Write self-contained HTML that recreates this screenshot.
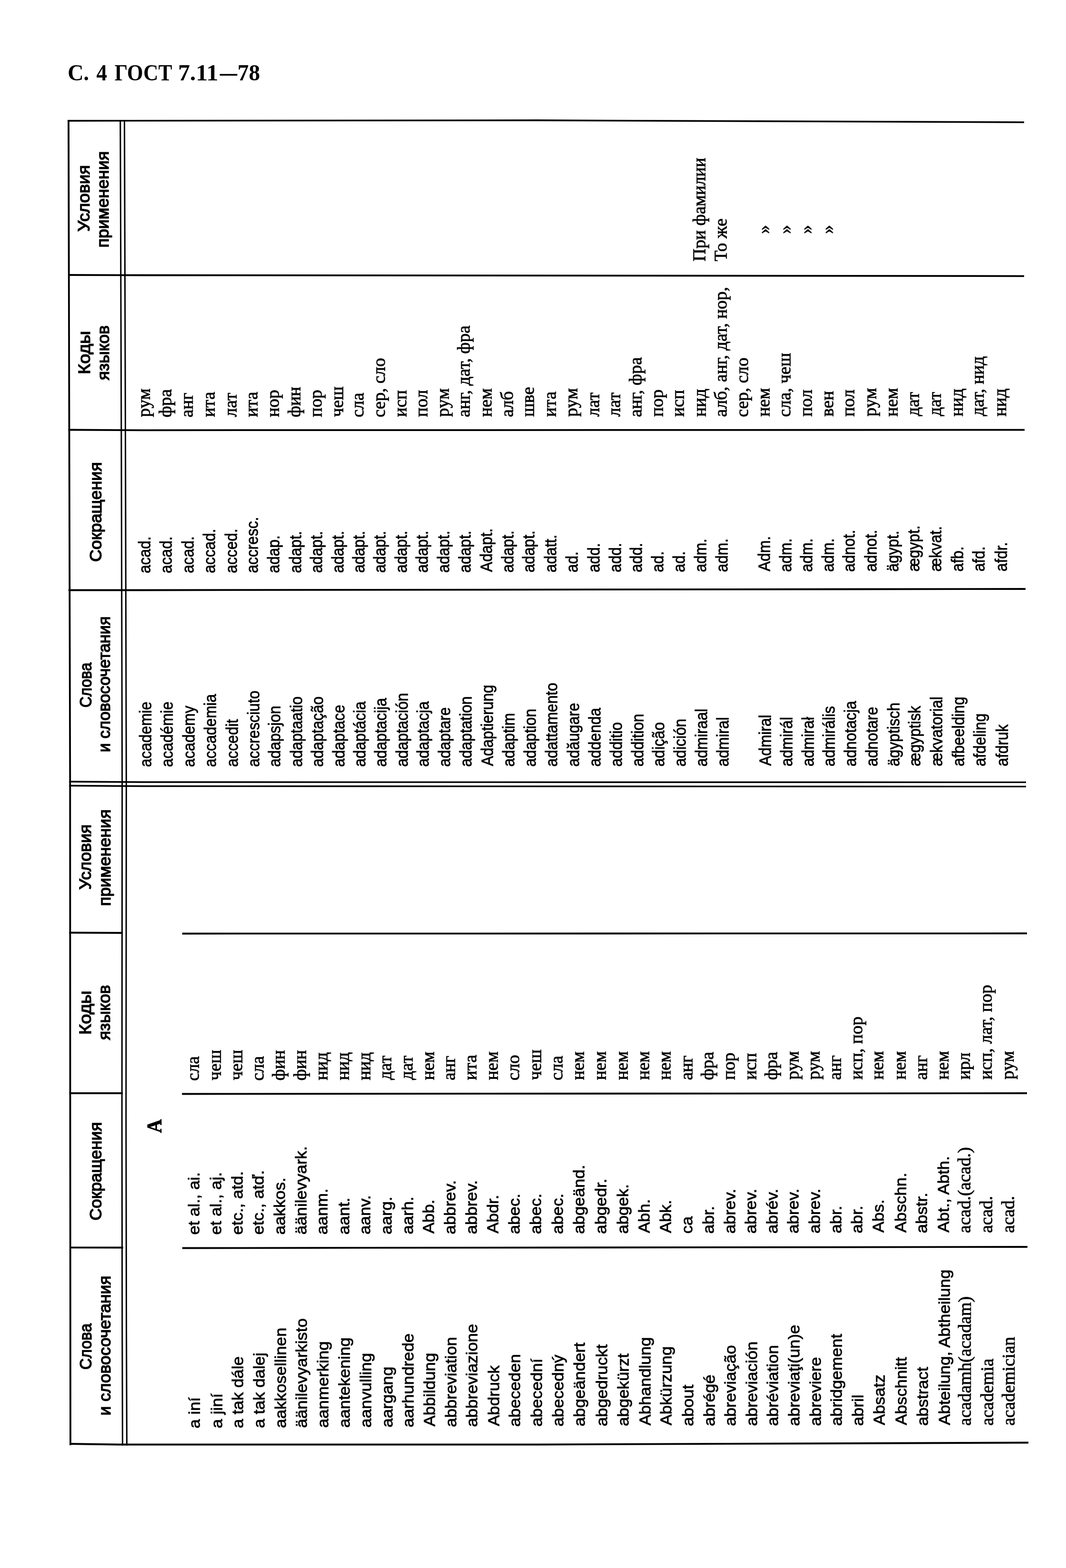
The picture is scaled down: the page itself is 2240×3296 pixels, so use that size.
<!DOCTYPE html>
<html lang="ru"><head><meta charset="utf-8"><title>ГОСТ 7.11—78, с. 4</title>
<style>
html,body{margin:0;padding:0;background:#fff;}
body{width:2240px;height:3296px;overflow:hidden;position:relative;}
svg{position:absolute;left:0;top:0;}
.o1{font-family:"Liberation Sans",sans-serif;font-size:33px;}
.o2{font-family:"Liberation Sans",sans-serif;font-size:34.5px;}
.t{font-family:"Liberation Serif",serif;font-size:37.4px;}
.h{font-family:"Liberation Sans",sans-serif;font-size:35px;}
.A{font-family:"Liberation Serif",serif;font-weight:bold;font-size:44px;}
.title{font-family:"Liberation Serif",serif;font-weight:bold;font-size:49px;stroke-width:0.0px;}
.h{stroke-width:1.5px;}
.A{stroke-width:1.0px;}
text{fill:#000;stroke:#000;stroke-width:0.8px;}
polyline{fill:none;stroke:#000;stroke-width:3.8px;stroke-linecap:butt;stroke-linejoin:round;}
</style></head>
<body>
<svg width="2240" height="3296" viewBox="0 0 2240 3296" xmlns="http://www.w3.org/2000/svg">
<text class="title" x="142.29" y="168.90" textLength="44.89" lengthAdjust="spacingAndGlyphs">С.</text>
<text class="title" x="202.43" y="168.90" textLength="22.47" lengthAdjust="spacingAndGlyphs">4</text>
<text class="title" x="240.63" y="168.90" textLength="120.94" lengthAdjust="spacingAndGlyphs">ГОСТ</text>
<text class="title" x="374.15" y="168.90" textLength="84.64" lengthAdjust="spacingAndGlyphs">7.11</text>
<text class="title" x="462.08" y="168.90" textLength="36.53" lengthAdjust="spacingAndGlyphs">—</text>
<text class="title" x="498.99" y="168.90" textLength="47.47" lengthAdjust="spacingAndGlyphs">78</text>
<polyline points="144.00,252.00 145.50,905.00 147.30,1650.00 147.50,2300.00 148.00,3038.00" style="stroke-width:3.80px"/>
<polyline points="252.80,252.00 254.90,905.00 256.70,1650.00 256.20,2350.00 256.80,2800.00 257.50,3038.50" style="stroke-width:3.00px"/>
<polyline points="261.50,252.00 263.50,905.00 265.40,1650.00 264.80,2350.00 265.60,2800.00 266.50,3038.50" style="stroke-width:3.00px"/>
<polyline points="142.10,253.90 1130.00,252.90 2152.00,257.00" style="stroke-width:3.60px"/>
<polyline points="143.60,578.00 300.00,578.50 2152.00,580.30" style="stroke-width:3.80px"/>
<polyline points="143.60,903.50 300.00,904.30 2153.00,903.60" style="stroke-width:3.80px"/>
<polyline points="143.80,1240.50 300.00,1240.50 2155.00,1238.00" style="stroke-width:3.80px"/>
<polyline points="145.40,1643.00 300.00,1644.00 2156.00,1644.40" style="stroke-width:3.40px"/>
<polyline points="145.40,1651.50 300.00,1652.50 2156.00,1653.40" style="stroke-width:3.40px"/>
<polyline points="145.40,1960.50 258.20,1961.00" style="stroke-width:3.80px"/>
<polyline points="383.00,1962.50 2158.00,1962.00" style="stroke-width:3.80px"/>
<polyline points="145.60,2298.00 258.20,2298.00" style="stroke-width:3.80px"/>
<polyline points="382.40,2299.50 2158.00,2298.00" style="stroke-width:3.80px"/>
<polyline points="146.00,2622.30 258.80,2622.50" style="stroke-width:3.80px"/>
<polyline points="383.00,2623.50 2159.00,2621.00" style="stroke-width:3.80px"/>
<polyline points="146.10,3035.00 250.00,3036.50 1130.00,3036.50 2161.00,3032.50" style="stroke-width:3.80px"/>
<text class="o2" transform="translate(318.10 1612.27) rotate(-90) scale(0.9200 1)">academie</text>
<text class="o2" transform="translate(315.90 1205.07) rotate(-90) scale(0.9200 1)">acad.</text>
<text class="t" transform="translate(314.60 876.75) rotate(-90)">рум</text>
<text class="o2" transform="translate(363.20 1612.23) rotate(-90) scale(0.9200 1)">académie</text>
<text class="o2" transform="translate(361.00 1204.97) rotate(-90) scale(0.9200 1)">acad.</text>
<text class="t" transform="translate(359.70 877.46) rotate(-90)">фра</text>
<text class="o2" transform="translate(408.80 1612.19) rotate(-90) scale(0.9200 1)">academy</text>
<text class="o2" transform="translate(406.60 1204.87) rotate(-90) scale(0.9200 1)">acad.</text>
<text class="t" transform="translate(405.30 877.42) rotate(-90)">анг</text>
<text class="o2" transform="translate(454.40 1612.15) rotate(-90) scale(0.9200 1)">accademia</text>
<text class="o2" transform="translate(452.20 1204.78) rotate(-90) scale(0.9200 1)">accad.</text>
<text class="t" transform="translate(450.90 876.82) rotate(-90)">ита</text>
<text class="o2" transform="translate(500.00 1612.11) rotate(-90) scale(0.9200 1)">accedit</text>
<text class="o2" transform="translate(497.80 1204.68) rotate(-90) scale(0.9200 1)">acced.</text>
<text class="t" transform="translate(496.50 876.41) rotate(-90)">лат</text>
<text class="o2" transform="translate(544.60 1612.07) rotate(-90) scale(0.9200 1)">accresciuto</text>
<text class="o2" transform="translate(542.40 1204.59) rotate(-90) scale(0.9200 1)">accresc.</text>
<text class="t" transform="translate(541.10 876.75) rotate(-90)">ита</text>
<text class="o2" transform="translate(589.30 1612.03) rotate(-90) scale(0.9200 1)">adapsjon</text>
<text class="o2" transform="translate(587.10 1204.49) rotate(-90) scale(0.9200 1)">adap.</text>
<text class="t" transform="translate(585.80 876.71) rotate(-90)">нор</text>
<text class="o2" transform="translate(634.70 1611.99) rotate(-90) scale(0.9200 1)">adaptaatio</text>
<text class="o2" transform="translate(632.50 1204.40) rotate(-90) scale(0.9200 1)">adapt.</text>
<text class="t" transform="translate(631.20 877.23) rotate(-90)">фин</text>
<text class="o2" transform="translate(679.30 1611.95) rotate(-90) scale(0.9200 1)">adaptação</text>
<text class="o2" transform="translate(677.10 1204.30) rotate(-90) scale(0.9200 1)">adapt.</text>
<text class="t" transform="translate(675.80 876.63) rotate(-90)">пор</text>
<text class="o2" transform="translate(724.00 1611.91) rotate(-90) scale(0.9200 1)">adaptace</text>
<text class="o2" transform="translate(721.80 1204.21) rotate(-90) scale(0.9200 1)">adapt.</text>
<text class="t" transform="translate(720.50 876.41) rotate(-90)">чеш</text>
<text class="o2" transform="translate(767.70 1611.87) rotate(-90) scale(0.9200 1)">adaptácia</text>
<text class="o2" transform="translate(765.50 1204.12) rotate(-90) scale(0.9200 1)">adapt.</text>
<text class="t" transform="translate(764.20 877.31) rotate(-90)">сла</text>
<text class="o2" transform="translate(812.30 1611.83) rotate(-90) scale(0.9200 1)">adaptacija</text>
<text class="o2" transform="translate(810.10 1204.02) rotate(-90) scale(0.9200 1)">adapt.</text>
<text class="t" transform="translate(808.80 877.27) rotate(-90)">сер, сло</text>
<text class="o2" transform="translate(857.00 1611.79) rotate(-90) scale(0.9200 1)">adaptación</text>
<text class="o2" transform="translate(854.80 1203.93) rotate(-90) scale(0.9200 1)">adapt.</text>
<text class="t" transform="translate(853.50 876.49) rotate(-90)">исп</text>
<text class="o2" transform="translate(901.00 1611.75) rotate(-90) scale(0.9200 1)">adaptacja</text>
<text class="o2" transform="translate(898.80 1203.83) rotate(-90) scale(0.9200 1)">adapt.</text>
<text class="t" transform="translate(897.50 876.45) rotate(-90)">пол</text>
<text class="o2" transform="translate(946.00 1611.71) rotate(-90) scale(0.9200 1)">adaptare</text>
<text class="o2" transform="translate(943.80 1203.74) rotate(-90) scale(0.9200 1)">adapt.</text>
<text class="t" transform="translate(942.50 876.23) rotate(-90)">рум</text>
<text class="o2" transform="translate(990.70 1611.67) rotate(-90) scale(0.9200 1)">adaptation</text>
<text class="o2" transform="translate(988.50 1203.64) rotate(-90) scale(0.9200 1)">adapt.</text>
<text class="t" transform="translate(987.20 876.94) rotate(-90)">анг, дат, фра</text>
<text class="o2" transform="translate(1036.30 1610.36) rotate(-90) scale(0.9200 1)">Adaptierung</text>
<text class="o2" transform="translate(1034.10 1202.28) rotate(-90) scale(0.9200 1)">Adapt.</text>
<text class="t" transform="translate(1032.80 876.34) rotate(-90)">нем</text>
<text class="o2" transform="translate(1081.00 1611.59) rotate(-90) scale(0.9200 1)">adaptim</text>
<text class="o2" transform="translate(1078.80 1203.45) rotate(-90) scale(0.9200 1)">adapt.</text>
<text class="t" transform="translate(1077.50 876.86) rotate(-90)">алб</text>
<text class="o2" transform="translate(1125.60 1611.55) rotate(-90) scale(0.9200 1)">adaption</text>
<text class="o2" transform="translate(1123.40 1203.36) rotate(-90) scale(0.9200 1)">adapt.</text>
<text class="t" transform="translate(1122.10 876.08) rotate(-90)">шве</text>
<text class="o2" transform="translate(1171.20 1611.51) rotate(-90) scale(0.9200 1)">adattamento</text>
<text class="o2" transform="translate(1169.00 1203.26) rotate(-90) scale(0.9200 1)">adatt.</text>
<text class="t" transform="translate(1167.70 876.23) rotate(-90)">ита</text>
<text class="o2" transform="translate(1216.60 1611.47) rotate(-90) scale(0.9200 1)">adăugare</text>
<text class="o2" transform="translate(1214.40 1203.17) rotate(-90) scale(0.9200 1)">ad.</text>
<text class="t" transform="translate(1213.10 876.00) rotate(-90)">рум</text>
<text class="o2" transform="translate(1262.20 1611.43) rotate(-90) scale(0.9200 1)">addenda</text>
<text class="o2" transform="translate(1260.00 1203.07) rotate(-90) scale(0.9200 1)">add.</text>
<text class="t" transform="translate(1258.70 875.78) rotate(-90)">лат</text>
<text class="o2" transform="translate(1306.90 1611.39) rotate(-90) scale(0.9200 1)">additio</text>
<text class="o2" transform="translate(1304.70 1202.98) rotate(-90) scale(0.9200 1)">add.</text>
<text class="t" transform="translate(1303.40 875.74) rotate(-90)">лат</text>
<text class="o2" transform="translate(1351.50 1611.35) rotate(-90) scale(0.9200 1)">addition</text>
<text class="o2" transform="translate(1349.30 1202.88) rotate(-90) scale(0.9200 1)">add.</text>
<text class="t" transform="translate(1348.00 876.64) rotate(-90)">анг, фра</text>
<text class="o2" transform="translate(1396.20 1611.31) rotate(-90) scale(0.9200 1)">adição</text>
<text class="o2" transform="translate(1394.00 1202.79) rotate(-90) scale(0.9200 1)">ad.</text>
<text class="t" transform="translate(1392.70 876.04) rotate(-90)">пор</text>
<text class="o2" transform="translate(1440.80 1611.27) rotate(-90) scale(0.9200 1)">adición</text>
<text class="o2" transform="translate(1438.60 1202.69) rotate(-90) scale(0.9200 1)">ad.</text>
<text class="t" transform="translate(1437.30 876.00) rotate(-90)">исп</text>
<text class="o2" transform="translate(1486.40 1611.23) rotate(-90) scale(0.9200 1)">admiraal</text>
<text class="o2" transform="translate(1484.20 1202.60) rotate(-90) scale(0.9200 1)">adm.</text>
<text class="t" transform="translate(1482.90 875.97) rotate(-90)">нид</text>
<text class="t" transform="translate(1482.20 549.62) rotate(-90)">При фамилии</text>
<text class="o2" transform="translate(1530.90 1611.19) rotate(-90) scale(0.9200 1)">admiral</text>
<text class="o2" transform="translate(1528.70 1202.50) rotate(-90) scale(0.9200 1)">adm.</text>
<text class="t" transform="translate(1527.40 876.49) rotate(-90)">алб, анг, дат, нор,</text>
<text class="t" transform="translate(1526.70 549.25) rotate(-90)">То же</text>
<text class="t" transform="translate(1572.00 876.64) rotate(-90)">сер, сло</text>
<text class="o2" transform="translate(1620.20 1609.84) rotate(-90) scale(0.9200 1)">Admiral</text>
<text class="o2" transform="translate(1618.00 1201.05) rotate(-90) scale(0.9200 1)">Adm.</text>
<text class="t" transform="translate(1616.70 875.86) rotate(-90)">нем</text>
<text class="t" transform="translate(1617.00 491.50) rotate(-90)">»</text>
<text class="o2" transform="translate(1664.80 1611.07) rotate(-90) scale(0.9200 1)">admirál</text>
<text class="o2" transform="translate(1662.60 1202.22) rotate(-90) scale(0.9200 1)">adm.</text>
<text class="t" transform="translate(1661.30 876.57) rotate(-90)">сла, чеш</text>
<text class="t" transform="translate(1661.60 491.50) rotate(-90)">»</text>
<text class="o2" transform="translate(1709.50 1611.03) rotate(-90) scale(0.9200 1)">admirał</text>
<text class="o2" transform="translate(1707.30 1202.13) rotate(-90) scale(0.9200 1)">adm.</text>
<text class="t" transform="translate(1706.00 875.78) rotate(-90)">пол</text>
<text class="t" transform="translate(1706.30 491.50) rotate(-90)">»</text>
<text class="o2" transform="translate(1754.10 1610.99) rotate(-90) scale(0.9200 1)">admirális</text>
<text class="o2" transform="translate(1751.90 1202.03) rotate(-90) scale(0.9200 1)">adm.</text>
<text class="t" transform="translate(1750.60 875.75) rotate(-90)">вен</text>
<text class="t" transform="translate(1750.90 491.50) rotate(-90)">»</text>
<text class="o2" transform="translate(1798.60 1610.95) rotate(-90) scale(0.9200 1)">adnotacja</text>
<text class="o2" transform="translate(1796.40 1201.94) rotate(-90) scale(0.9200 1)">adnot.</text>
<text class="t" transform="translate(1795.10 875.71) rotate(-90)">пол</text>
<text class="o2" transform="translate(1844.20 1610.91) rotate(-90) scale(0.9200 1)">adnotare</text>
<text class="o2" transform="translate(1842.00 1201.84) rotate(-90) scale(0.9200 1)">adnot.</text>
<text class="t" transform="translate(1840.70 875.48) rotate(-90)">рум</text>
<text class="o2" transform="translate(1889.80 1610.87) rotate(-90) scale(0.9200 1)">ägyptisch</text>
<text class="o2" transform="translate(1887.60 1201.75) rotate(-90) scale(0.9200 1)">ägypt.</text>
<text class="t" transform="translate(1886.30 875.63) rotate(-90)">нем</text>
<text class="o2" transform="translate(1934.40 1610.51) rotate(-90) scale(0.9200 1)">ægyptisk</text>
<text class="o2" transform="translate(1932.20 1201.33) rotate(-90) scale(0.9200 1)">ægypt.</text>
<text class="t" transform="translate(1930.90 874.85) rotate(-90)">дат</text>
<text class="o2" transform="translate(1980.10 1610.47) rotate(-90) scale(0.9200 1)">ækvatorial</text>
<text class="o2" transform="translate(1977.90 1201.24) rotate(-90) scale(0.9200 1)">ækvat.</text>
<text class="t" transform="translate(1976.60 874.81) rotate(-90)">дат</text>
<text class="o2" transform="translate(2026.00 1610.75) rotate(-90) scale(0.9200 1)">afbeelding</text>
<text class="o2" transform="translate(2023.80 1201.46) rotate(-90) scale(0.9200 1)">afb.</text>
<text class="t" transform="translate(2022.50 875.52) rotate(-90)">нид</text>
<text class="o2" transform="translate(2070.90 1610.71) rotate(-90) scale(0.9200 1)">afdeling</text>
<text class="o2" transform="translate(2068.70 1201.36) rotate(-90) scale(0.9200 1)">afd.</text>
<text class="t" transform="translate(2067.40 874.74) rotate(-90)">дат, нид</text>
<text class="o2" transform="translate(2117.70 1610.67) rotate(-90) scale(0.9200 1)">afdruk</text>
<text class="o2" transform="translate(2115.50 1201.26) rotate(-90) scale(0.9200 1)">afdr.</text>
<text class="t" transform="translate(2114.20 875.44) rotate(-90)">нид</text>
<text class="o1" transform="translate(420.10 3002.60) rotate(-90) scale(1.0550 1)">a iní</text>
<text class="o1" transform="translate(418.60 2595.59) rotate(-90) scale(1.0550 1)">et al., ai.</text>
<text class="t" transform="translate(417.80 2271.89) rotate(-90)">сла</text>
<text class="o1" transform="translate(466.60 3002.35) rotate(-90) scale(1.0550 1)">a jiní</text>
<text class="o1" transform="translate(465.10 2595.49) rotate(-90) scale(1.0550 1)">et al., aj.</text>
<text class="t" transform="translate(464.30 2270.91) rotate(-90)">чеш</text>
<text class="o1" transform="translate(511.30 3002.11) rotate(-90) scale(1.0550 1)">a tak dále</text>
<text class="o1" transform="translate(509.80 2595.39) rotate(-90) scale(1.0550 1)">etc., atd.</text>
<text class="t" transform="translate(509.00 2270.86) rotate(-90)">чеш</text>
<text class="o1" transform="translate(555.90 3001.87) rotate(-90) scale(1.0550 1)">a tak dalej</text>
<text class="o1" transform="translate(554.40 2595.29) rotate(-90) scale(1.0550 1)">etc., atď.</text>
<text class="t" transform="translate(553.60 2271.74) rotate(-90)">сла</text>
<text class="o1" transform="translate(600.60 3001.63) rotate(-90) scale(1.0550 1)">aakkosellinen</text>
<text class="o1" transform="translate(599.10 2595.19) rotate(-90) scale(1.0550 1)">aakkos.</text>
<text class="t" transform="translate(598.30 2271.51) rotate(-90)">фин</text>
<text class="o1" transform="translate(645.20 3001.39) rotate(-90) scale(1.0550 1)">äänilevyarkisto</text>
<text class="o1" transform="translate(643.70 2595.09) rotate(-90) scale(1.0550 1)">äänilevyark.</text>
<text class="t" transform="translate(642.90 2271.46) rotate(-90)">фин</text>
<text class="o1" transform="translate(689.90 3001.15) rotate(-90) scale(1.0550 1)">aanmerking</text>
<text class="o1" transform="translate(688.40 2594.99) rotate(-90) scale(1.0550 1)">aanm.</text>
<text class="t" transform="translate(687.60 2270.85) rotate(-90)">нид</text>
<text class="o1" transform="translate(735.30 3000.91) rotate(-90) scale(1.0550 1)">aantekening</text>
<text class="o1" transform="translate(733.80 2594.89) rotate(-90) scale(1.0550 1)">aant.</text>
<text class="t" transform="translate(733.00 2270.80) rotate(-90)">нид</text>
<text class="o1" transform="translate(779.90 3000.67) rotate(-90) scale(1.0550 1)">aanvulling</text>
<text class="o1" transform="translate(778.40 2594.79) rotate(-90) scale(1.0550 1)">aanv.</text>
<text class="t" transform="translate(777.60 2270.75) rotate(-90)">нид</text>
<text class="o1" transform="translate(824.60 3000.43) rotate(-90) scale(1.0550 1)">aargang</text>
<text class="o1" transform="translate(823.10 2594.69) rotate(-90) scale(1.0550 1)">aarg.</text>
<text class="t" transform="translate(822.30 2269.95) rotate(-90)">дат</text>
<text class="o1" transform="translate(869.20 3000.20) rotate(-90) scale(1.0550 1)">aarhundrede</text>
<text class="o1" transform="translate(867.70 2594.59) rotate(-90) scale(1.0550 1)">aarh.</text>
<text class="t" transform="translate(866.90 2269.90) rotate(-90)">дат</text>
<text class="o1" transform="translate(913.90 2998.57) rotate(-90) scale(1.0550 1)">Abbildung</text>
<text class="o1" transform="translate(912.40 2593.10) rotate(-90) scale(1.0550 1)">Abb.</text>
<text class="t" transform="translate(911.60 2270.60) rotate(-90)">нем</text>
<text class="o1" transform="translate(958.50 2999.72) rotate(-90) scale(1.0550 1)">abbreviation</text>
<text class="o1" transform="translate(957.00 2594.39) rotate(-90) scale(1.0550 1)">abbrev.</text>
<text class="t" transform="translate(956.20 2271.11) rotate(-90)">анг</text>
<text class="o1" transform="translate(1003.00 2999.48) rotate(-90) scale(1.0550 1)">abbreviazione</text>
<text class="o1" transform="translate(1001.50 2594.30) rotate(-90) scale(1.0550 1)">abbrev.</text>
<text class="t" transform="translate(1000.70 2270.50) rotate(-90)">ита</text>
<text class="o1" transform="translate(1048.60 2997.85) rotate(-90) scale(1.0550 1)">Abdruck</text>
<text class="o1" transform="translate(1047.10 2592.80) rotate(-90) scale(1.0550 1)">Abdr.</text>
<text class="t" transform="translate(1046.30 2270.45) rotate(-90)">нем</text>
<text class="o1" transform="translate(1093.20 2999.00) rotate(-90) scale(1.0550 1)">abeceden</text>
<text class="o1" transform="translate(1091.70 2594.10) rotate(-90) scale(1.0550 1)">abec.</text>
<text class="t" transform="translate(1090.90 2271.15) rotate(-90)">сло</text>
<text class="o1" transform="translate(1138.80 2998.76) rotate(-90) scale(1.0550 1)">abecední</text>
<text class="o1" transform="translate(1137.30 2593.99) rotate(-90) scale(1.0550 1)">abec.</text>
<text class="t" transform="translate(1136.50 2270.16) rotate(-90)">чеш</text>
<text class="o1" transform="translate(1184.40 2998.51) rotate(-90) scale(1.0550 1)">abecedný</text>
<text class="o1" transform="translate(1182.90 2593.89) rotate(-90) scale(1.0550 1)">abec.</text>
<text class="t" transform="translate(1182.10 2271.05) rotate(-90)">сла</text>
<text class="o1" transform="translate(1229.10 2998.27) rotate(-90) scale(1.0550 1)">abgeändert</text>
<text class="o1" transform="translate(1227.60 2593.79) rotate(-90) scale(1.0550 1)">abgeänd.</text>
<text class="t" transform="translate(1226.80 2270.25) rotate(-90)">нем</text>
<text class="o1" transform="translate(1275.60 2998.03) rotate(-90) scale(1.0550 1)">abgedruckt</text>
<text class="o1" transform="translate(1274.10 2593.69) rotate(-90) scale(1.0550 1)">abgedr.</text>
<text class="t" transform="translate(1273.30 2270.20) rotate(-90)">нем</text>
<text class="o1" transform="translate(1321.00 2997.87) rotate(-90) scale(1.0550 1)">abgekürzt</text>
<text class="o1" transform="translate(1319.50 2593.59) rotate(-90) scale(1.0550 1)">abgek.</text>
<text class="t" transform="translate(1318.70 2270.15) rotate(-90)">нем</text>
<text class="o1" transform="translate(1366.60 2996.42) rotate(-90) scale(1.0550 1)">Abhandlung</text>
<text class="o1" transform="translate(1365.10 2592.10) rotate(-90) scale(1.0550 1)">Abh.</text>
<text class="t" transform="translate(1364.30 2270.10) rotate(-90)">нем</text>
<text class="o1" transform="translate(1411.30 2996.37) rotate(-90) scale(1.0550 1)">Abkürzung</text>
<text class="o1" transform="translate(1409.80 2592.00) rotate(-90) scale(1.0550 1)">Abk.</text>
<text class="t" transform="translate(1409.00 2270.05) rotate(-90)">нем</text>
<text class="o1" transform="translate(1456.90 2997.70) rotate(-90) scale(1.0550 1)">about</text>
<text class="o1" transform="translate(1455.40 2593.29) rotate(-90) scale(1.0550 1)">ca</text>
<text class="t" transform="translate(1454.60 2270.56) rotate(-90)">анг</text>
<text class="o1" transform="translate(1501.50 2997.65) rotate(-90) scale(1.0550 1)">abrégé</text>
<text class="o1" transform="translate(1500.00 2593.19) rotate(-90) scale(1.0550 1)">abr.</text>
<text class="t" transform="translate(1499.20 2270.51) rotate(-90)">фра</text>
<text class="o1" transform="translate(1546.20 2997.60) rotate(-90) scale(1.0550 1)">abreviação</text>
<text class="o1" transform="translate(1544.70 2593.09) rotate(-90) scale(1.0550 1)">abrev.</text>
<text class="t" transform="translate(1543.90 2269.90) rotate(-90)">пор</text>
<text class="o1" transform="translate(1590.80 2997.54) rotate(-90) scale(1.0550 1)">abreviación</text>
<text class="o1" transform="translate(1589.30 2592.99) rotate(-90) scale(1.0550 1)">abrev.</text>
<text class="t" transform="translate(1588.50 2269.85) rotate(-90)">исп</text>
<text class="o1" transform="translate(1635.30 2997.49) rotate(-90) scale(1.0550 1)">abréviation</text>
<text class="o1" transform="translate(1633.80 2592.89) rotate(-90) scale(1.0550 1)">abrév.</text>
<text class="t" transform="translate(1633.00 2270.36) rotate(-90)">фра</text>
<text class="o1" transform="translate(1679.90 2997.44) rotate(-90) scale(1.0550 1)">abreviaţi(un)e</text>
<text class="o1" transform="translate(1678.40 2592.79) rotate(-90) scale(1.0550 1)">abrev.</text>
<text class="t" transform="translate(1677.60 2269.56) rotate(-90)">рум</text>
<text class="o1" transform="translate(1724.60 2997.38) rotate(-90) scale(1.0550 1)">abreviere</text>
<text class="o1" transform="translate(1723.10 2592.69) rotate(-90) scale(1.0550 1)">abrev.</text>
<text class="t" transform="translate(1722.30 2269.51) rotate(-90)">рум</text>
<text class="o1" transform="translate(1769.20 2997.33) rotate(-90) scale(1.0550 1)">abridgement</text>
<text class="o1" transform="translate(1767.70 2592.59) rotate(-90) scale(1.0550 1)">abr.</text>
<text class="t" transform="translate(1766.90 2270.21) rotate(-90)">анг</text>
<text class="o1" transform="translate(1813.90 2997.27) rotate(-90) scale(1.0550 1)">abril</text>
<text class="o1" transform="translate(1812.40 2592.50) rotate(-90) scale(1.0550 1)">abr.</text>
<text class="t" transform="translate(1811.60 2269.60) rotate(-90)">исп, пор</text>
<text class="o1" transform="translate(1858.50 2995.83) rotate(-90) scale(1.0550 1)">Absatz</text>
<text class="o1" transform="translate(1857.00 2591.00) rotate(-90) scale(1.0550 1)">Abs.</text>
<text class="t" transform="translate(1856.20 2269.55) rotate(-90)">нем</text>
<text class="o1" transform="translate(1905.30 2995.77) rotate(-90) scale(1.0550 1)">Abschnitt</text>
<text class="o1" transform="translate(1903.80 2590.90) rotate(-90) scale(1.0550 1)">Abschn.</text>
<text class="t" transform="translate(1903.00 2269.50) rotate(-90)">нем</text>
<text class="o1" transform="translate(1949.90 2997.11) rotate(-90) scale(1.0550 1)">abstract</text>
<text class="o1" transform="translate(1948.40 2592.19) rotate(-90) scale(1.0550 1)">abstr.</text>
<text class="t" transform="translate(1947.60 2270.01) rotate(-90)">анг</text>
<text class="o1" transform="translate(1995.50 2995.66) rotate(-90) scale(1.0550 1)">Abteilung, Abtheilung</text>
<text class="o1" transform="translate(1994.00 2590.70) rotate(-90) scale(1.0550 1)">Abt., Abth.</text>
<text class="t" transform="translate(1993.20 2269.40) rotate(-90)">нем</text>
<text class="t" transform="translate(2040.20 2996.92) rotate(-90)">acadamh(acadam)</text>
<text class="t" transform="translate(2038.70 2591.91) rotate(-90)">acad.(acad.)</text>
<text class="t" transform="translate(2037.90 2269.35) rotate(-90)">ирл</text>
<text class="t" transform="translate(2086.70 2996.86) rotate(-90)">academia</text>
<text class="t" transform="translate(2085.20 2591.81) rotate(-90)">acad.</text>
<text class="t" transform="translate(2084.40 2269.30) rotate(-90)">исп, лат, пор</text>
<text class="t" transform="translate(2132.30 2996.81) rotate(-90)">academician</text>
<text class="t" transform="translate(2130.80 2591.71) rotate(-90)">acad.</text>
<text class="t" transform="translate(2130.00 2269.06) rotate(-90)">рум</text>
<text class="h" transform="translate(187.90 486.69) rotate(-90)" textLength="139.46" lengthAdjust="spacingAndGlyphs">Условия</text>
<text class="h" transform="translate(228.20 520.40) rotate(-90)" textLength="202.45" lengthAdjust="spacingAndGlyphs">применения</text>
<text class="h" transform="translate(189.00 786.71) rotate(-90)" textLength="91.00" lengthAdjust="spacingAndGlyphs">Коды</text>
<text class="h" transform="translate(228.90 799.15) rotate(-90)" textLength="115.27" lengthAdjust="spacingAndGlyphs">языков</text>
<text class="h" transform="translate(213.30 1181.09) rotate(-90)" textLength="209.74" lengthAdjust="spacingAndGlyphs">Сокращения</text>
<text class="h" transform="translate(191.60 1487.30) rotate(-90)" textLength="94.58" lengthAdjust="spacingAndGlyphs">Слова</text>
<text class="h" transform="translate(231.40 1581.21) rotate(-90)" textLength="285.65" lengthAdjust="spacingAndGlyphs">и словосочетания</text>
<text class="h" transform="translate(191.30 1869.97) rotate(-90)" textLength="137.10" lengthAdjust="spacingAndGlyphs">Условия</text>
<text class="h" transform="translate(231.70 1904.51) rotate(-90)" textLength="203.07" lengthAdjust="spacingAndGlyphs">применения</text>
<text class="h" transform="translate(191.30 2174.96) rotate(-90)" textLength="92.50" lengthAdjust="spacingAndGlyphs">Коды</text>
<text class="h" transform="translate(230.70 2186.16) rotate(-90)" textLength="115.78" lengthAdjust="spacingAndGlyphs">языков</text>
<text class="h" transform="translate(213.20 2565.47) rotate(-90)" textLength="206.78" lengthAdjust="spacingAndGlyphs">Сокращения</text>
<text class="h" transform="translate(191.60 2879.04) rotate(-90)" textLength="97.02" lengthAdjust="spacingAndGlyphs">Слова</text>
<text class="h" transform="translate(231.50 2975.58) rotate(-90)" textLength="294.09" lengthAdjust="spacingAndGlyphs">и словосочетания</text>
<text class="A" transform="translate(339.30 2381.40) rotate(-90)" textLength="28.79" lengthAdjust="spacingAndGlyphs">А</text>
</svg>
</body></html>
